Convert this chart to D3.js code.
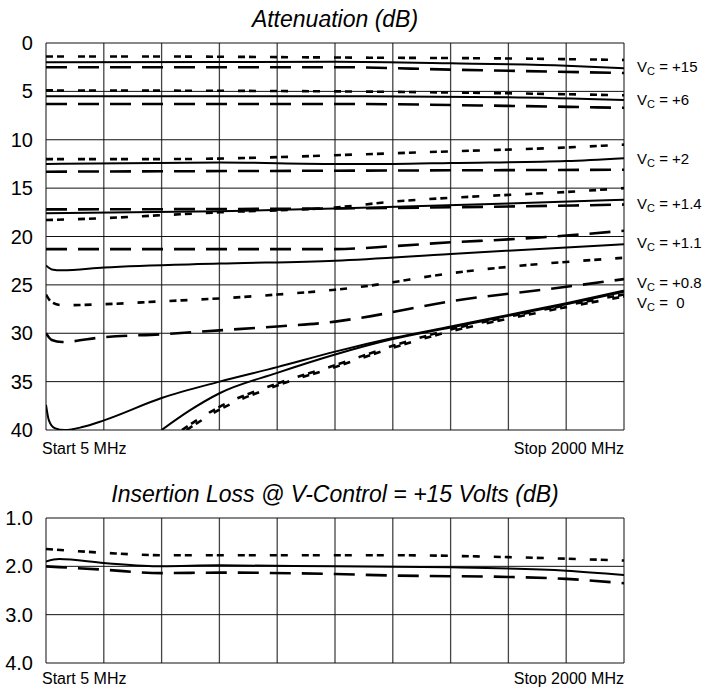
<!DOCTYPE html>
<html>
<head>
<meta charset="utf-8">
<script src="https://cdn.jsdelivr.net/npm/d3@7"></script>
<style>
  body { margin: 0; background: #fff; }
  svg { font-family: "Liberation Sans", Arial, sans-serif; }
  text { white-space: pre; }
</style>
</head>
<body>
<svg id="chart" width="722" height="690"></svg>
<script>
(function(d3){
  "use strict";

/***************** DATA (MHz, dB) ******************/
var freqRange = [5, 2000];
var attTicks = [0, 5, 10, 15, 20, 25, 30, 35, 40];
var attTickLabels = [" 0", " 5", "10", "15", "20", "25", "30", "35", "40"];
var ilTicks = [1, 2, 3, 4];
var ilTickLabels = ["1.0", "2.0", "3.0", "4.0"];

// Vc = +15
var vc15Short = [[5, 1.4], [404, 1.4], [1003, 1.5], [1601, 1.6], [2000, 1.75]];
var vc15Solid = [[5, 2.0], [1003, 1.95], [1402, 2.1], [1801, 2.35], [2000, 2.6]];
var vc15Long = [[5, 2.5], [1003, 2.5], [1402, 2.75], [2000, 3.1]];
// Vc = +6
var vc6Short = [[5, 4.9], [1003, 5.0], [1601, 5.2], [2000, 5.4]];
var vc6Solid = [[5, 5.5], [1003, 5.5], [1601, 5.6], [2000, 5.9]];
var vc6Long = [[5, 6.3], [1003, 6.3], [1601, 6.5], [2000, 6.7]];
// Vc = +2
var vc2Short = [[5, 12.0], [404, 12.0], [803, 11.8], [1003, 11.6], [1402, 11.2], [1801, 10.8], [2000, 10.5]];
var vc2Solid = [[5, 12.5], [604, 12.35], [1003, 12.5], [1202, 12.5], [1402, 12.4], [1801, 12.2], [2000, 11.9]];
var vc2Long = [[5, 13.3], [1003, 13.2], [2000, 13.1]];
// Vc = +1.4
var vc14Short = [[5, 18.3], [205, 18.1], [404, 17.8], [604, 17.5], [1003, 17.0], [1202, 16.4], [1402, 16.0], [1601, 15.7], [1801, 15.4], [2000, 15.0]];
var vc14Solid = [[5, 17.6], [604, 17.4], [1003, 17.1], [1601, 16.6], [2000, 16.2]];
var vc14Long = [[5, 17.2], [1003, 17.1], [1601, 16.9], [2000, 16.7]];
// Vc = +1.1
var vc11Solid = [[5, 23.0], [25, 23.4], [60, 23.5], [205, 23.2], [604, 22.8], [1003, 22.5], [1402, 21.8], [2000, 20.8]];
var vc11Long = [[5, 21.3], [1003, 21.3], [1202, 21.0], [1402, 20.6], [1601, 20.3], [1801, 19.9], [2000, 19.4]];
// Vc = +0.8
var vc08Short = [[5, 26.0], [25, 26.8], [60, 27.1], [205, 27.0], [404, 26.7], [604, 26.4], [803, 26.0], [1003, 25.5], [1092, 25.2], [1402, 23.8], [2000, 22.2]];
var vc08Long = [[5, 30.0], [25, 30.7], [60, 30.9], [205, 30.4], [404, 30.1], [604, 29.7], [803, 29.3], [1003, 28.8], [1092, 28.4], [1402, 26.7], [1801, 25.2], [2000, 24.4]];
// Vc = 0
var vc0SolidA = [[5, 37.4], [15, 39.0], [35, 39.8], [70, 40.0], [130, 39.7], [205, 39.0], [404, 36.7], [604, 35.0], [803, 33.5], [1003, 31.9], [1202, 30.5], [1402, 29.3], [1601, 28.1], [1801, 26.9], [2000, 25.6]];
var vc0SolidB = [[404, 40.0], [500, 38.0], [604, 36.2], [803, 34.1], [1003, 32.2], [1202, 30.6], [1402, 29.4], [1601, 28.2], [1801, 27.0], [2000, 25.7]];
var vc0ShortA = [[474, 40.0], [604, 37.6], [803, 35.2], [1003, 33.3], [1202, 31.3], [1402, 29.6], [1601, 28.3], [1801, 27.1], [2000, 26.0]];
var vc0ShortB = [[490, 40.0], [604, 37.9], [803, 35.4], [1003, 33.5], [1202, 31.5], [1402, 29.8], [1601, 28.5], [1801, 27.3], [2000, 26.2]];

// insertion loss @ +15 V
var ilShort = [[5, 1.64], [205, 1.72], [404, 1.77], [1003, 1.77], [1202, 1.77], [1601, 1.81], [2000, 1.88]];
var ilSolid = [[5, 1.9], [50, 1.85], [205, 1.93], [404, 2.0], [604, 1.98], [1003, 2.0], [1402, 2.02], [1801, 2.09], [2000, 2.18]];
var ilLong = [[5, 2.0], [205, 2.07], [404, 2.14], [604, 2.13], [1003, 2.16], [1202, 2.19], [1601, 2.22], [1801, 2.26], [2000, 2.35]];

var stateLabels = ["+15", "+6", "+2", "+1.4", "+1.1", "+0.8", " 0"];
var stateLabelDb = [2.5, 5.9, 12.0, 16.6, 20.7, 24.8, 26.9];

/***************** DRAWING ******************/
var svg = d3.select("#chart");
var X0 = 46, X1 = 624;
var x = d3.scaleLinear().domain(freqRange).range([X0, X1]);

var styles = {
  solid: {dash: null, width: 2},
  short: {dash: "7,4,7,14", width: 2.6},
  long: {dash: "21,11", width: 2.6}
};

function drawPanel(id, y, ticks, tickLabels, series, title, titleY, stopDy) {
  var g = svg.append("g").attr("class", "panel-" + id);
  var top = y.range()[0], bottom = y.range()[1];

  g.append("clipPath").attr("id", "clip-" + id)
    .append("rect").attr("x", X0).attr("y", top)
    .attr("width", X1 - X0).attr("height", bottom - top);

  // 10 equal columns across the span
  var cols = d3.range(11).map(function(i){
    return freqRange[0] + i * (freqRange[1] - freqRange[0]) / 10; });
  g.selectAll("line.vgrid").data(cols).enter().append("line")
    .attr("class", "vgrid")
    .attr("x1", x).attr("x2", x).attr("y1", top).attr("y2", bottom)
    .attr("stroke", "#444").attr("stroke-width", 1.3);
  g.selectAll("line.hgrid").data(ticks).enter().append("line")
    .attr("class", "hgrid")
    .attr("x1", X0).attr("x2", X1).attr("y1", y).attr("y2", y)
    .attr("stroke", "#111").attr("stroke-width", 1);

  g.selectAll("text.ytick").data(ticks).enter().append("text")
    .attr("class", "ytick")
    .attr("x", 33).attr("y", function(d){ return y(d) + 7; })
    .attr("text-anchor", "end").attr("font-size", 20)
    .text(function(d, i){ return tickLabels[i]; });

  var line = d3.line()
    .x(function(d){ return x(d[0]); })
    .y(function(d){ return y(d[1]); })
    .curve(d3.curveMonotoneX);

  g.append("g").attr("clip-path", "url(#clip-" + id + ")")
    .selectAll("path").data(series).enter().append("path")
      .attr("d", function(s){ return line(s.pts); })
      .attr("fill", "none").attr("stroke", "#000")
      .attr("stroke-width", function(s){ return styles[s.style].width; })
      .attr("stroke-dasharray", function(s){ return styles[s.style].dash; });

  g.append("text").attr("x", 335).attr("y", titleY)
    .attr("text-anchor", "middle").attr("font-size", 23)
    .attr("font-style", "italic").text(title);
  g.append("text").attr("x", 42).attr("y", bottom + stopDy)
    .attr("font-size", 16).text("Start 5 MHz");
  g.append("text").attr("x", X1).attr("y", bottom + stopDy)
    .attr("text-anchor", "end").attr("font-size", 16).text("Stop 2000 MHz");
}

var yAtt = d3.scaleLinear().domain([0, 40]).range([43, 430]);
var yIl = d3.scaleLinear().domain([1, 4]).range([518, 663]);

drawPanel("att", yAtt, attTicks, attTickLabels, [
  {style: "short", pts: vc15Short}, {style: "solid", pts: vc15Solid}, {style: "long", pts: vc15Long},
  {style: "short", pts: vc6Short}, {style: "solid", pts: vc6Solid}, {style: "long", pts: vc6Long},
  {style: "short", pts: vc2Short}, {style: "solid", pts: vc2Solid}, {style: "long", pts: vc2Long},
  {style: "short", pts: vc14Short}, {style: "solid", pts: vc14Solid}, {style: "long", pts: vc14Long},
  {style: "solid", pts: vc11Solid}, {style: "long", pts: vc11Long},
  {style: "short", pts: vc08Short}, {style: "long", pts: vc08Long},
  {style: "solid", pts: vc0SolidA}, {style: "solid", pts: vc0SolidB},
  {style: "short", pts: vc0ShortA}, {style: "short", pts: vc0ShortB}
], "Attenuation (dB)", 27, 24);

drawPanel("il", yIl, ilTicks, ilTickLabels, [
  {style: "short", pts: ilShort}, {style: "solid", pts: ilSolid}, {style: "long", pts: ilLong}
], "Insertion Loss @ V-Control = +15 Volts (dB)", 502, 21);

// Vc labels on the right
var lab = svg.append("g").selectAll("text").data(stateLabels).enter().append("text")
  .attr("x", 637).attr("y", function(d, i){ return yAtt(stateLabelDb[i]) + 5; })
  .attr("font-size", 15);
lab.append("tspan").text("V");
lab.append("tspan").attr("dy", 3).attr("font-size", 11).text("C");
lab.append("tspan").attr("dy", -3).text(function(d){ return " = " + d; });

})(d3);
</script>
</body>
</html>
